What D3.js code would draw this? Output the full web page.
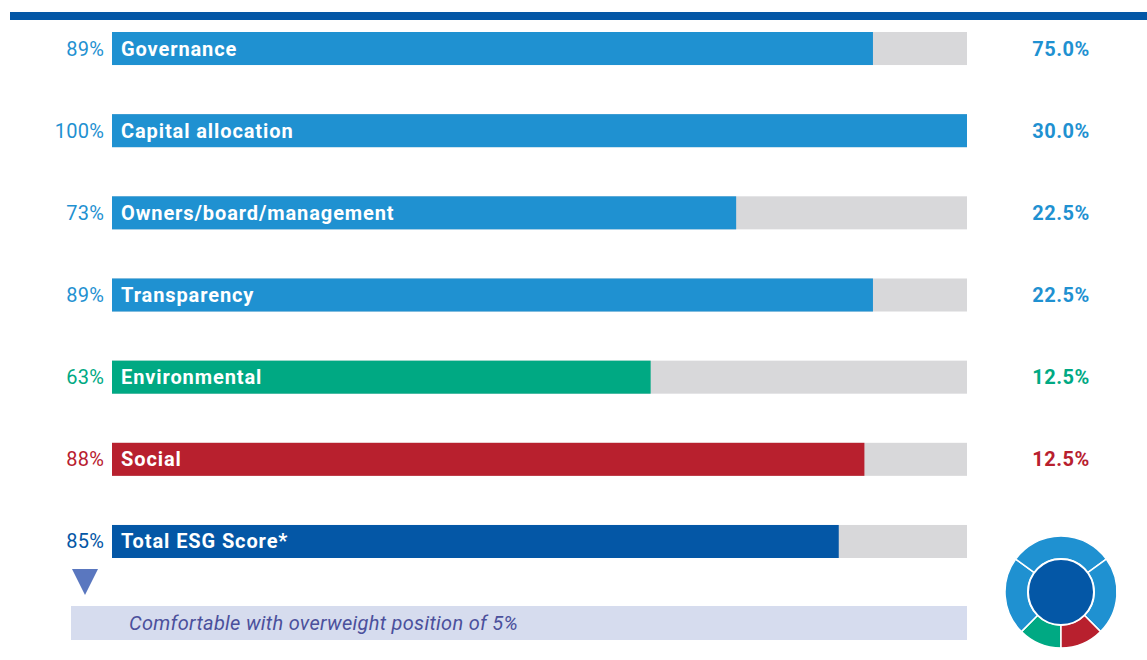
<!DOCTYPE html>
<html>
<head>
<meta charset="utf-8">
<script src="https://cdn.jsdelivr.net/npm/d3@7"></script>
<style>
  html, body { margin: 0; padding: 0; background: #fff; }
  svg { display: block; font-family: Roboto, "Noto Sans", sans-serif; }
</style>
</head>
<body>
<svg id="chart" width="1147" height="660"></svg>
<script>
// ESG score breakdown
const categories = ["Governance", "Capital allocation", "Owners/board/management", "Transparency", "Environmental", "Social", "Total ESG Score*"];
const scores = [89, 100, 73, 89, 63, 88, 85];
const weights = [75.0, 30.0, 22.5, 22.5, 12.5, 12.5, null];
const pillars = ["gov", "gov", "gov", "gov", "env", "soc", "total"];

// Ring segments around the total score, clockwise from the bottom
const ringOrder = ["Environmental", "Owners/board/management", "Capital allocation", "Transparency", "Social"];

const note = "Comfortable with overweight position of 5%";

const colour = { gov: "#1f91d1", env: "#00a983", soc: "#b8202e", total: "#0457a6" };
const trackColour = "#d8d8da";

const svg = d3.select("#chart");

// header rule
svg.append("rect").attr("x", 10).attr("y", 12).attr("width", 1137).attr("height", 8).attr("fill", "#0457a6");

const x = d3.scaleLinear().domain([0, 100]).range([112, 967]);
const y = d3.scaleBand().domain(categories).range([32, 558]).paddingInner(0.598).paddingOuter(0);

const rows = categories.map((c, i) => ({ name: c, score: scores[i], weight: weights[i], pillar: pillars[i] }));

const row = svg.selectAll("g.row").data(rows).join("g").attr("class", "row");

// grey track
row.append("rect")
  .attr("x", x(0)).attr("y", d => y(d.name))
  .attr("width", x(100) - x(0)).attr("height", y.bandwidth())
  .attr("fill", trackColour);

// score bar
row.append("rect")
  .attr("x", x(0)).attr("y", d => y(d.name))
  .attr("width", d => x(d.score) - x(0)).attr("height", y.bandwidth())
  .attr("fill", d => colour[d.pillar]);

// category name inside bar
row.append("text")
  .attr("x", x(0) + 9).attr("y", d => y(d.name) + y.bandwidth() / 2)
  .attr("dy", "0.35em")
  .attr("fill", "#fff").attr("font-weight", 700).attr("font-size", 20)
  .attr("letter-spacing", 0.9)
  .text(d => d.name);

// score on the left
row.append("text")
  .attr("x", x(0) - 8).attr("y", d => y(d.name) + y.bandwidth() / 2)
  .attr("dy", "0.35em").attr("text-anchor", "end")
  .attr("fill", d => colour[d.pillar]).attr("font-size", 20)
  .attr("letter-spacing", 0.2)
  .text(d => d.score + "%");

// weight on the right
row.filter(d => d.weight !== null).append("text")
  .attr("x", 1061).attr("y", d => y(d.name) + y.bandwidth() / 2)
  .attr("dy", "0.35em").attr("text-anchor", "middle")
  .attr("fill", d => colour[d.pillar]).attr("font-weight", 700).attr("font-size", 20)
  .attr("letter-spacing", 0.5)
  .text(d => d.weight.toFixed(1) + "%");

// weighting ring
const ringData = ringOrder.map(n => rows.find(r => r.name === n));
const pie = d3.pie().sort(null).value(d => d.weight).startAngle(Math.PI).endAngle(3 * Math.PI);
const arc = d3.arc().innerRadius(33).outerRadius(56);
const ring = svg.append("g").attr("transform", "translate(1061,592)");
ring.selectAll("path").data(pie(ringData)).join("path")
  .attr("d", arc)
  .attr("fill", d => colour[d.data.pillar])
  .attr("stroke", "#fff").attr("stroke-width", 1.5);
ring.append("circle").attr("r", 33).attr("fill", colour.total).attr("stroke", "#fff").attr("stroke-width", 2);

// positioning marker and note
svg.append("path")
  .attr("d", d3.line()([[72, 569], [98, 569], [85, 595]]) + "Z")
  .attr("fill", "#5a77bf");
svg.append("rect").attr("x", 71).attr("y", 606).attr("width", 896).attr("height", 34).attr("fill", "#d6dcee");
svg.append("text")
  .attr("x", 129).attr("y", 623).attr("dy", "0.35em")
  .attr("font-style", "italic").attr("font-size", 20).attr("fill", "#4b509c")
  .attr("letter-spacing", 0.3)
  .text(note);
</script>
</body>
</html>
